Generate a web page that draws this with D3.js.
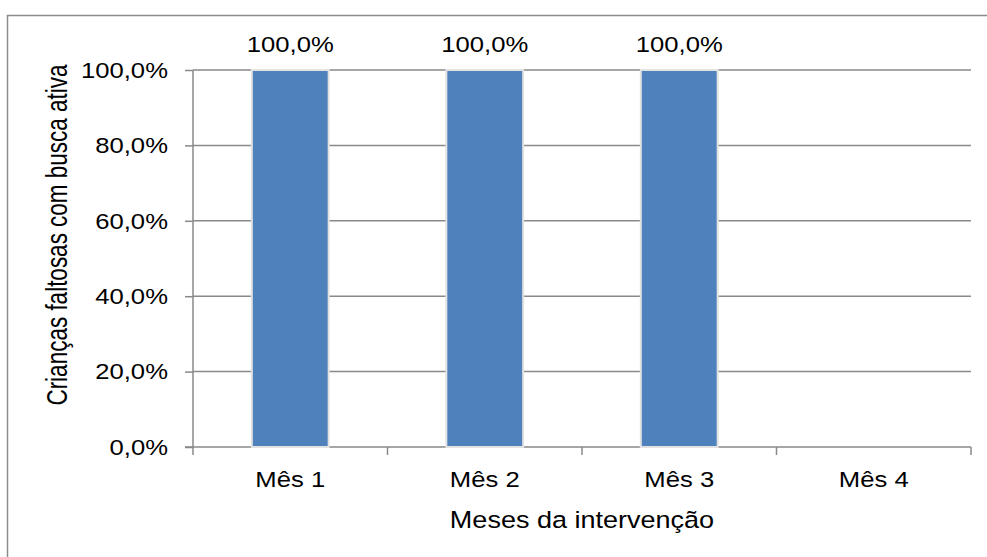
<!DOCTYPE html>
<html>
<head>
<meta charset="utf-8">
<script src="https://cdn.jsdelivr.net/npm/d3@7"></script>
<style>
  body { margin: 0; background: #fff; }
  svg text { font-family: "Liberation Sans", Arial, sans-serif; fill: #000; }
  .axis path, .axis line { stroke: #898989; stroke-width: 1.5; }
  .grid line { stroke: #898989; stroke-width: 1.5; }
</style>
</head>
<body>
<script>
// Data
var months = ["Mês 1", "Mês 2", "Mês 3", "Mês 4"];
var rates = [1, 1, 1, null];
var yTicks = [0, 0.2, 0.4, 0.6, 0.8, 1];

var W = 987, H = 557;
var margin = {top: 70, right: 16, bottom: 110, left: 193};
var width = W - margin.left - margin.right,
    height = H - margin.top - margin.bottom;

// stretch factor, the original picture is wider than its text
var sx = 1.14;

var fmt = function(d) { return d3.format(".1f")(d * 100).replace(".", ",") + "%"; };

var svg = d3.select("body").append("svg")
    .attr("width", W)
    .attr("height", H);

// outer frame
svg.append("rect")
    .attr("x", 7.5).attr("y", 15.5)
    .attr("width", W + 10).attr("height", H + 10)
    .attr("fill", "none")
    .attr("stroke", "#8c8c8c")
    .attr("stroke-width", 1.5);

var chart = svg.append("g")
    .attr("transform", "translate(" + margin.left + "," + margin.top + ")");

var x = d3.scaleBand().domain(months).range([0, width]).paddingInner(0.605).paddingOuter(0.3025);
var xb = d3.scaleBand().domain(months).range([0, width]);
var y = d3.scaleLinear().domain([0, 1]).range([height, 0]);

// gridlines
chart.append("g").attr("class", "grid")
    .selectAll("line")
    .data(yTicks.slice(1))
    .enter().append("line")
    .attr("x1", 0).attr("x2", width)
    .attr("y1", function(d) { return y(d); })
    .attr("y2", function(d) { return y(d); });

// y axis
var yAxis = chart.append("g").attr("class", "axis y")
    .call(d3.axisLeft(y).tickValues(yTicks).tickFormat(fmt).tickSize(8).tickPadding(14));
yAxis.select(".domain").attr("d", "M0," + height + "V0");
yAxis.selectAll("text")
    .style("font-size", "22.5px")
    .attr("transform", "scale(" + sx + ",1)");

// x axis, ticks at category boundaries
var xAxis = chart.append("g").attr("class", "axis x")
    .attr("transform", "translate(0," + height + ")");
xAxis.append("line").attr("x1", -8).attr("x2", width);
xAxis.selectAll(".tk")
    .data(d3.range(months.length + 1))
    .enter().append("line")
    .attr("class", "tk")
    .attr("x1", function(i) { return i * xb.step(); })
    .attr("x2", function(i) { return i * xb.step(); })
    .attr("y1", 0).attr("y2", 8);
xAxis.selectAll(".lbl")
    .data(months)
    .enter().append("text")
    .attr("class", "lbl")
    .attr("transform", function(d) { return "translate(" + (xb(d) + xb.bandwidth() / 2) + ",40) scale(" + sx + ",1)"; })
    .attr("text-anchor", "middle")
    .style("font-size", "22.5px")
    .text(function(d) { return d; });

// bars
var bars = chart.selectAll(".bar")
    .data(months.map(function(m, i) { return {month: m, value: rates[i]}; }).filter(function(d) { return d.value != null; }))
    .enter();

bars.append("rect")
    .attr("class", "bar")
    .attr("x", function(d) { return x(d.month); })
    .attr("width", x.bandwidth())
    .attr("y", function(d) { return y(d.value); })
    .attr("height", function(d) { return height - y(d.value); })
    .attr("fill", "#4f81bd")
    .attr("stroke", "#e2e2e2")
    .attr("stroke-width", 2);

bars.append("text")
    .attr("transform", function(d) { return "translate(" + (x(d.month) + x.bandwidth() / 2) + "," + (y(d.value) - 18) + ") scale(" + sx + ",1)"; })
    .attr("text-anchor", "middle")
    .style("font-size", "22.5px")
    .text(function(d) { return fmt(d.value); });

// axis titles
svg.append("text")
    .attr("transform", "translate(" + (margin.left + width / 2) + ",528) scale(1.15,1)")
    .attr("text-anchor", "middle")
    .style("font-size", "23.5px")
    .text("Meses da intervenção");

svg.append("text")
    .attr("transform", "translate(67,235) rotate(-90) scale(1,1.27)")
    .attr("text-anchor", "middle")
    .style("font-size", "22.5px")
    .text("Crianças faltosas com busca ativa");
</script>
</body>
</html>
